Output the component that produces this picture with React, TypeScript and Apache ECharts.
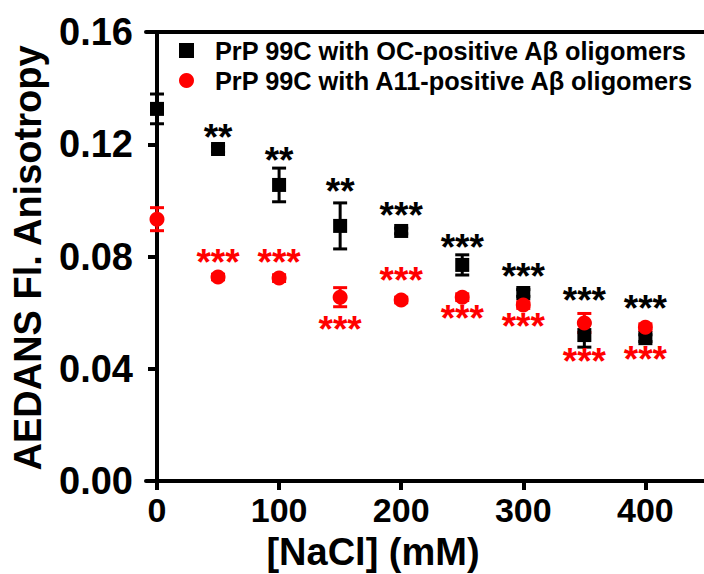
import React, { useEffect, useRef } from "react";
import * as echarts from "echarts";

const xValues = [0, 50, 100, 150, 200, 250, 300, 350, 400];
const ocMean = [0.1326, 0.1183, 0.1055, 0.0909, 0.0891, 0.077, 0.067, 0.052, 0.0509];
const ocErr = [0.0053, 0.001, 0.006, 0.0082, 0.001, 0.0036, 0.0012, 0.0043, 0.0012];
const a11Mean = [0.0933, 0.0727, 0.0723, 0.0655, 0.0645, 0.0655, 0.0627, 0.0563, 0.0548];
const a11Err = [0.0041, 0.001, 0.0012, 0.0034, 0.001, 0.0012, 0.0012, 0.0034, 0.0012];
const ocStars = ["", "**", "**", "**", "***", "***", "***", "***", "***"];
const ocStarY = [0, 0.1233, 0.1154, 0.1043, 0.0958, 0.0844, 0.0741, 0.0655, 0.0627];
const a11Stars = ["", "***", "***", "***", "***", "***", "***", "***", "***"];
const a11StarY = [0, 0.079, 0.079, 0.0552, 0.0726, 0.0591, 0.0563, 0.0438, 0.0445];
const xTicks = [0, 100, 200, 300, 400];
const seriesNames = [
  "PrP 99C with OC-positive A\u03b2 oligomers",
  "PrP 99C with A11-positive A\u03b2 oligomers",
];

const FONT = '"Liberation Sans", Arial, sans-serif';

function errorBarSeries(means: number[], errs: number[], color: string) {
  return {
    type: "custom",
    silent: true,
    data: xValues.map((x, i) => [x, means[i], errs[i]]),
    renderItem: (params: any, api: any) => {
      const x = api.value(0);
      const y = api.value(1);
      const e = api.value(2);
      const top = api.coord([x, y + e]);
      const bot = api.coord([x, y - e]);
      const w = 7;
      const style = { stroke: color, lineWidth: 3 };
      return {
        type: "group",
        children: [
          { type: "line", shape: { x1: top[0], y1: top[1], x2: bot[0], y2: bot[1] }, style },
          { type: "line", shape: { x1: top[0] - w, y1: top[1], x2: top[0] + w, y2: top[1] }, style },
          { type: "line", shape: { x1: bot[0] - w, y1: bot[1], x2: bot[0] + w, y2: bot[1] }, style },
        ],
      };
    },
    z: 3,
  };
}

function starSeries(stars: string[], ys: number[], color: string) {
  return {
    type: "custom",
    silent: true,
    data: xValues
      .map((x, i) => [x, ys[i], i])
      .filter((d) => stars[d[2] as number] !== ""),
    renderItem: (params: any, api: any) => {
      const x = api.value(0);
      const y = api.value(1);
      const idx = api.value(2);
      const p = api.coord([x, y]);
      return {
        type: "text",
        x: p[0],
        y: p[1] + 3,
        style: {
          text: stars[idx],
          fill: color,
          font: `bold 37px ${FONT}`,
          align: "center",
          verticalAlign: "middle",
        },
      };
    },
    z: 5,
  };
}

export default function App() {
  const ref = useRef<HTMLDivElement>(null);
  useEffect(() => {
    document.body.style.margin = "0";
    const chart = echarts.init(ref.current!, null, { renderer: "svg" });
    const axisCommon = {
      min: -9,
      max: 448,
    };
    chart.setOption({
      animation: false,
      backgroundColor: "#ffffff",
      grid: { left: 146, right: 0, top: 32, bottom: 93, containLabel: false },
      legend: {
        left: 179,
        top: 38,
        orient: "vertical",
        padding: 0,
        itemGap: 5,
        itemWidth: 15,
        itemHeight: 15,
        data: [
          { name: seriesNames[0], icon: "rect" },
          { name: seriesNames[1], icon: "circle" },
        ],
        textStyle: {
          fontFamily: FONT,
          fontWeight: "bold",
          fontSize: 25.3,
          color: "#000",
          padding: [0, 0, 0, 16],
        },
      },
      xAxis: [
        {
          type: "value",
          ...axisCommon,
          axisLine: { show: true, onZero: false, lineStyle: { color: "#000", width: 4 } },
          axisTick: {
            show: true,
            length: 9,
            lineStyle: { color: "#000", width: 4 },
            customValues: xTicks,
          },
          axisLabel: {
            show: true,
            customValues: xTicks,
            fontFamily: FONT,
            fontWeight: "bold",
            fontSize: 34,
            color: "#000",
            margin: 12,
          },
          splitLine: { show: false },
        },
        {
          type: "value",
          position: "top",
          ...axisCommon,
          axisLine: { show: true, onZero: false, lineStyle: { color: "#000", width: 4 } },
          axisTick: { show: false },
          axisLabel: { show: false },
          splitLine: { show: false },
        },
      ],
      yAxis: {
        type: "value",
        min: 0,
        max: 0.16,
        interval: 0.04,
        axisLine: { show: true, lineStyle: { color: "#000", width: 4 } },
        axisTick: { show: true, length: 9, lineStyle: { color: "#000", width: 4 } },
        axisLabel: {
          formatter: (v: number) => v.toFixed(2),
          fontFamily: FONT,
          fontWeight: "bold",
          fontSize: 38,
          color: "#000",
          margin: 13,
        },
        splitLine: { show: false },
      },
      graphic: [
        {
          type: "text",
          x: 28,
          y: 258,
          rotation: Math.PI / 2,
          style: {
            text: "AEDANS Fl. Anisotropy",
            font: `bold 38px ${FONT}`,
            fill: "#000",
            align: "center",
            verticalAlign: "middle",
          },
        },
        {
          type: "text",
          x: 373,
          y: 552,
          style: {
            text: "[NaCl] (mM)",
            font: `bold 38px ${FONT}`,
            fill: "#000",
            align: "center",
            verticalAlign: "middle",
          },
        },
      ],
      series: [
        errorBarSeries(ocMean, ocErr, "#000"),
        {
          name: seriesNames[0],
          type: "scatter",
          symbol: "rect",
          symbolSize: 14,
          itemStyle: { color: "#000", opacity: 1 },
          data: xValues.map((x, i) => [x, ocMean[i]]),
          z: 4,
        },
        errorBarSeries(a11Mean, a11Err, "#ff0000"),
        {
          name: seriesNames[1],
          type: "scatter",
          symbol: "circle",
          symbolSize: 15,
          itemStyle: { color: "#ff0000", opacity: 1 },
          data: xValues.map((x, i) => [x, a11Mean[i]]),
          z: 4,
        },
        starSeries(ocStars, ocStarY, "#000"),
        starSeries(a11Stars, a11StarY, "#ff0000"),
      ],
    });
    return () => chart.dispose();
  }, []);
  return (
    <div
      ref={ref}
      style={{ width: 704, height: 574, position: "absolute", left: 0, top: 0 }}
    />
  );
}
